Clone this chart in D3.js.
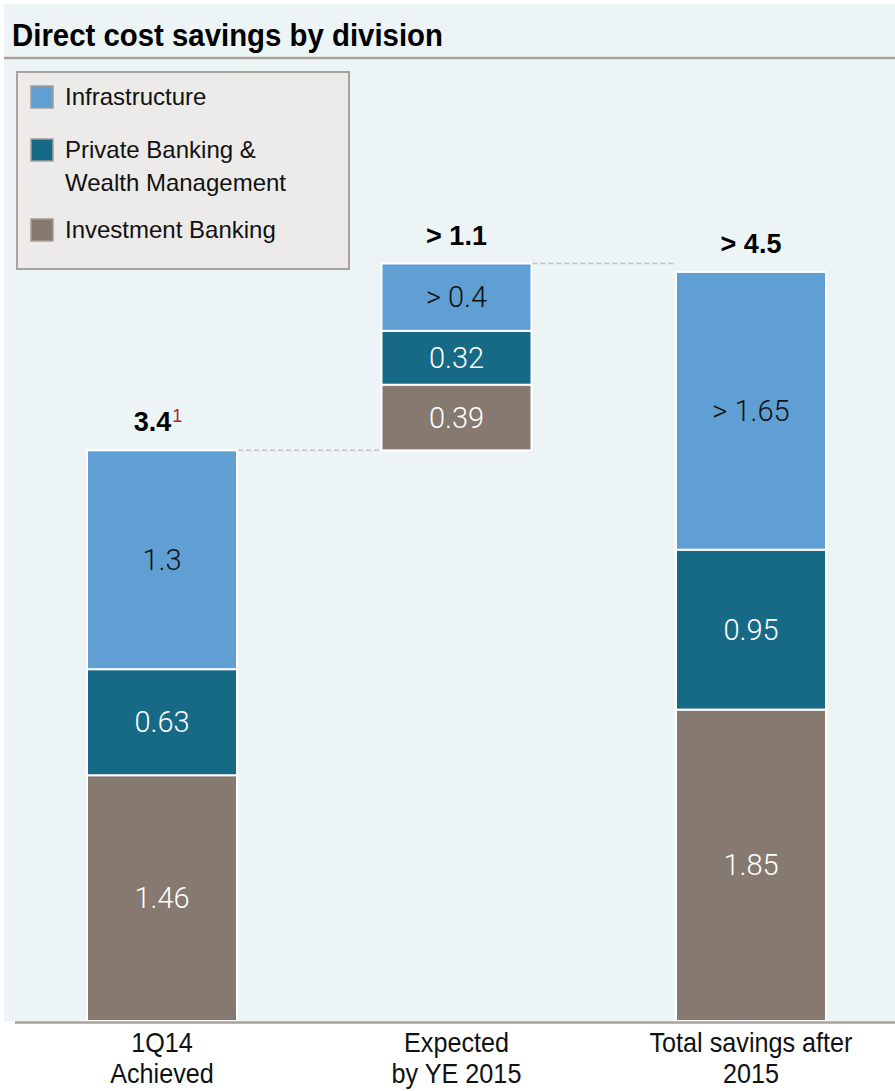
<!DOCTYPE html>
<html>
<head>
<meta charset="utf-8">
<script src="https://cdn.jsdelivr.net/npm/d3@7"></script>
<style>
  html, body { margin: 0; padding: 0; background: #ffffff; }
  svg { display: block; }
</style>
</head>
<body>
<svg id="chart" width="895" height="1091"></svg>
<script>
// Direct cost savings (CHF bn) by division
const categories = ["1Q14 Achieved", "Expected by YE 2015", "Total savings after 2015"];
const categoryLines = [["1Q14", "Achieved"], ["Expected", "by YE 2015"], ["Total savings after", "2015"]];
const divisions = ["Investment Banking", "Private Banking & Wealth Management", "Infrastructure"];
const investmentBanking = [1.46, 0.39, 1.85];
const privateBankingWM = [0.63, 0.32, 0.95];
const infrastructure = [1.3, 0.4, 1.65];
const infraLabels = ["1.3", "> 0.4", "> 1.65"];
const totalLabels = ["3.4", "> 1.1", "> 4.5"];
const totalNotes = ["1", "", ""];
// bar 2 floats on top of bar 1 (waterfall step)
const floatsOnPrevious = [false, true, false];

const colors = {
  "Infrastructure": "#609fd4",
  "Private Banking & Wealth Management": "#176a86",
  "Investment Banking": "#857970"
};
const legendOrder = ["Infrastructure", "Private Banking & Wealth Management", "Investment Banking"];
const legendLines = [["Infrastructure"], ["Private Banking &", "Wealth Management"], ["Investment Banking"]];

const svg = d3.select("#chart");
const W = 895, H = 1091;
const baseY = 1021;

// panel
svg.append("rect").attr("x", 4).attr("y", 4).attr("width", W - 4).attr("height", baseY - 4)
  .attr("fill", "#ecf4f6");

// title
svg.append("text").attr("x", 12).attr("y", 46)
  .attr("font-family", "Liberation Sans, Arial, sans-serif")
  .attr("font-weight", "bold").attr("font-size", 32)
  .attr("textLength", 431).attr("lengthAdjust", "spacingAndGlyphs")
  .attr("fill", "#000").text("Direct cost savings by division");
svg.append("line").attr("x1", 4).attr("x2", W).attr("y1", 58).attr("y2", 58)
  .attr("stroke", "#aaa29d").attr("stroke-width", 2.5);

// scales
const x = d3.scaleBand().domain(categories).range([15, 898])
  .paddingInner(0.4907).paddingOuter(0.2445);
const y = d3.scaleLinear().domain([0, 6]).range([baseY, 11]);

// build stacked rows
const rows = categories.map((c, i) => ({
  cat: c,
  "Investment Banking": investmentBanking[i],
  "Private Banking & Wealth Management": privateBankingWM[i],
  "Infrastructure": infrastructure[i]
}));
const totals = rows.map(r => d3.sum(divisions, k => r[k]));
const offsets = totals.map((t, i) => floatsOnPrevious[i] ? totals[i - 1] : 0);
const stack = d3.stack().keys(divisions)(rows);

const g = svg.append("g");
stack.forEach(layer => {
  layer.forEach((d, i) => {
    const y0 = d[0] + offsets[i], y1 = d[1] + offsets[i];
    g.append("rect")
      .attr("x", x(categories[i])).attr("width", x.bandwidth())
      .attr("y", y(y1)).attr("height", y(y0) - y(y1))
      .attr("fill", colors[layer.key])
      .attr("stroke", "#ffffff").attr("stroke-width", 2);
    let label;
    if (layer.key === "Infrastructure") label = infraLabels[i];
    else label = d3.format(".2f")(y1 - y0).replace(/0$/, "");
    g.append("text")
      .attr("x", x(categories[i]) + x.bandwidth() / 2)
      .attr("y", (y(y0) + y(y1)) / 2 + 10)
      .attr("text-anchor", "middle")
      .attr("font-family", "Roboto, Liberation Sans, sans-serif")
      .attr("font-weight", 300).attr("font-size", 29)
      .attr("fill", layer.key === "Infrastructure" ? "#111" : "#ffffff")
      .text(label);
  });
});

// dashed connectors between bar tops
for (let i = 0; i < categories.length - 1; i++) {
  const top = totals[i] + offsets[i];
  g.append("line")
    .attr("x1", x(categories[i]) + x.bandwidth() + 1)
    .attr("x2", x(categories[i + 1]) - 1)
    .attr("y1", y(top)).attr("y2", y(top))
    .attr("stroke", "#c4c4c4").attr("stroke-width", 1.5)
    .attr("stroke-dasharray", "5,3");
}

// total labels
categories.forEach((c, i) => {
  const top = totals[i] + offsets[i];
  const t = g.append("text")
    .attr("x", x(c) + x.bandwidth() / 2 + (totalNotes[i] ? -4 : 0))
    .attr("y", y(top) - 19)
    .attr("text-anchor", "middle")
    .attr("font-family", "Liberation Sans, Arial, sans-serif")
    .attr("font-weight", "bold").attr("font-size", 27)
    .attr("fill", "#000");
  t.append("tspan").text(totalLabels[i]);
  if (totalNotes[i]) {
    t.append("tspan").attr("dx", 1).attr("dy", -9).attr("font-size", 18)
      .attr("font-weight", "normal").attr("fill", "#b01c3c").text(totalNotes[i]);
  }
});

// axis baseline
svg.append("line").attr("x1", 15).attr("x2", W).attr("y1", baseY + 1.5).attr("y2", baseY + 1.5)
  .attr("stroke", "#a8a09b").attr("stroke-width", 2.5);

// category labels (slightly condensed)
categories.forEach((c, i) => {
  const cx = x(c) + x.bandwidth() / 2;
  categoryLines[i].forEach((line, j) => {
    svg.append("text")
      .attr("transform", `translate(${cx},${1052 + j * 31}) scale(0.9,1)`)
      .attr("text-anchor", "middle")
      .attr("font-family", "Liberation Sans, Arial, sans-serif")
      .attr("font-size", 28).attr("fill", "#111")
      .text(line);
  });
});

// legend
const lg = svg.append("g");
lg.append("rect").attr("x", 17).attr("y", 72).attr("width", 332).attr("height", 197)
  .attr("fill", "#ecebea").attr("stroke", "#a9a29d").attr("stroke-width", 2);
const legendY = [86, 139, 219];
legendOrder.forEach((k, i) => {
  lg.append("rect").attr("x", 31).attr("y", legendY[i]).attr("width", 22).attr("height", 22)
    .attr("fill", colors[k]).attr("stroke", "#a59d97").attr("stroke-width", 1.5);
  legendLines[i].forEach((line, j) => {
    lg.append("text").attr("x", 65).attr("y", legendY[i] + 19 + j * 33)
      .attr("font-family", "Liberation Sans, Arial, sans-serif")
      .attr("font-size", 24).attr("fill", "#111")
      .text(line);
  });
});
</script>
</body>
</html>
